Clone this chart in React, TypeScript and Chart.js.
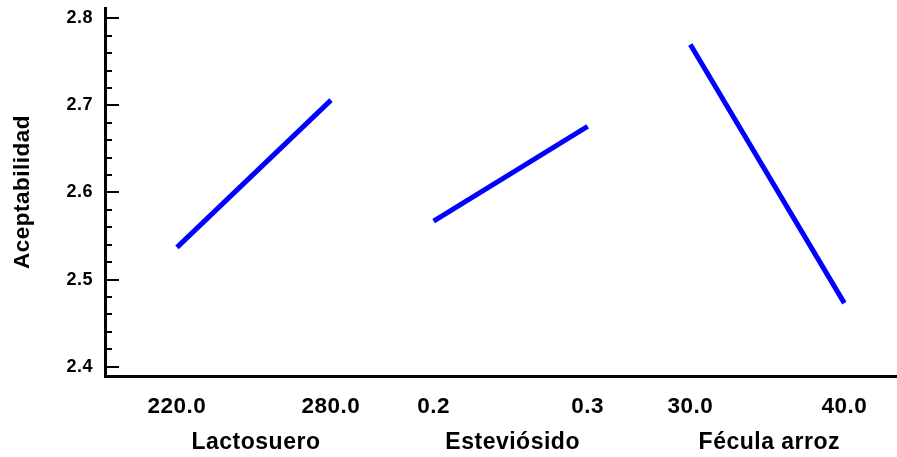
import { useEffect, useRef } from 'react';
import { Chart, registerables } from 'chart.js';

Chart.register(...registerables);

// ---- data ----
const factors = ['Lactosuero', 'Esteviósido', 'Fécula arroz'];
const lowLabels = ['220.0', '0.2', '30.0'];
const highLabels = ['280.0', '0.3', '40.0'];
const lowMeans = [2.537, 2.567, 2.770];
const highMeans = [2.706, 2.676, 2.473];
const yTickValues = [2.4, 2.5, 2.6, 2.7, 2.8];
const yMinorStep = 0.02;
const yTitle = 'Aceptabilidad';

// positions of each factor's low/high level along the shared x axis
const SPAN = 1.5;
const GAP = 1.0;
const lowPos = factors.map((_, i) => i * (SPAN + GAP));
const highPos = lowPos.map((p) => p + SPAN);
const tickPositions: number[] = [];
const tickLabels: string[] = [];
factors.forEach((_, i) => {
  tickPositions.push(lowPos[i], highPos[i]);
  tickLabels.push(lowLabels[i], highLabels[i]);
});

const FONT = '"Liberation Sans", Arial, Helvetica, sans-serif';

const decorPlugin = {
  id: 'decor',
  beforeDraw(chart: any) {
    chart.ctx.letterSpacing = '0.5px';
  },
  afterDatasetsDraw(chart: any) {
    chart.ctx.letterSpacing = '2px';
  },
  afterDraw(chart: any) {
    const { ctx, chartArea } = chart;
    const x = chart.scales.x;
    const y = chart.scales.y;
    ctx.save();
    ctx.letterSpacing = '0px';
    ctx.strokeStyle = '#000';
    ctx.lineWidth = 2;
    const first = yTickValues[0];
    const last = yTickValues[yTickValues.length - 1];
    const n = Math.round((last - first) / yMinorStep);
    for (let k = 0; k <= n; k++) {
      const v = first + k * yMinorStep;
      const major = k % 5 === 0;
      const py = Math.round(y.getPixelForValue(v));
      ctx.beginPath();
      ctx.moveTo(chartArea.left, py);
      ctx.lineTo(chartArea.left + (major ? 14 : 7), py);
      ctx.stroke();
    }
    ctx.letterSpacing = '0.5px';
    ctx.font = `bold 23px ${FONT}`;
    ctx.fillStyle = '#000';
    ctx.textAlign = 'center';
    ctx.textBaseline = 'alphabetic';
    factors.forEach((f, i) => {
      const cx = (x.getPixelForValue(lowPos[i]) + x.getPixelForValue(highPos[i])) / 2 + 2;
      ctx.fillText(f, cx, 449);
    });
    ctx.restore();
    ctx.letterSpacing = '0px';
  },
};

export default function App() {
  const ref = useRef<HTMLCanvasElement>(null);
  useEffect(() => {
    const chart = new Chart(ref.current as HTMLCanvasElement, {
      type: 'line',
      data: {
        datasets: factors.map((f, i) => ({
          label: f,
          data: [
            { x: lowPos[i], y: lowMeans[i] },
            { x: highPos[i], y: highMeans[i] },
          ],
          borderColor: '#0000ff',
          backgroundColor: '#0000ff',
          borderWidth: 5,
          pointRadius: 0,
          fill: false,
          tension: 0,
        })),
      },
      options: {
        animation: false,
        responsive: false,
        maintainAspectRatio: false,
        layout: { padding: { top: 8, left: 0, right: 0, bottom: 0 } },
        plugins: {
          legend: { display: false },
          tooltip: { enabled: false },
        },
        scales: {
          x: {
            type: 'linear',
            z: 1,
            min: -0.701,
            max: 7.013,
            grid: { display: false },
            border: { display: true, color: '#000', width: 3 },
            afterBuildTicks: (scale: any) => {
              scale.ticks = tickPositions.map((v) => ({ value: v }));
            },
            afterFit: (scale: any) => {
              scale.height = 81;
              scale.paddingLeft = 0;
              scale.paddingRight = 0;
            },
            ticks: {
              autoSkip: false,
              maxRotation: 0,
              minRotation: 0,
              padding: 9,
              color: '#000',
              font: { family: FONT, size: 22.5, weight: 'bold' },
              callback: (_v: any, idx: number) => tickLabels[idx],
            },
          },
          y: {
            type: 'linear',
            z: 0,
            min: 2.3893,
            max: 2.8118,
            grid: { display: false },
            border: { display: true, color: '#000', width: 3 },
            afterBuildTicks: (scale: any) => {
              scale.ticks = yTickValues.map((v) => ({ value: v }));
            },
            afterFit: (scale: any) => {
              scale.width = 105;
              scale.paddingTop = 0;
              scale.paddingBottom = 0;
            },
            title: {
              display: true,
              text: yTitle,
              color: '#000',
              font: { family: FONT, size: 22.5, weight: 'bold' },
              padding: { top: 9, bottom: 0 },
            },
            ticks: {
              padding: 4,
              color: '#000',
              font: { family: FONT, size: 18, weight: 'bold' },
              callback: (v: any) => Number(v).toFixed(1),
            },
          },
        },
      },
      plugins: [decorPlugin],
    } as any);
    return () => chart.destroy();
  }, []);
  return (
    <div style={{ position: 'absolute', left: 0, top: 0, width: 897, height: 457, background: '#fff' }}>
      <canvas ref={ref} width={897} height={457} style={{ display: 'block', width: 897, height: 457 }} />
    </div>
  );
}
